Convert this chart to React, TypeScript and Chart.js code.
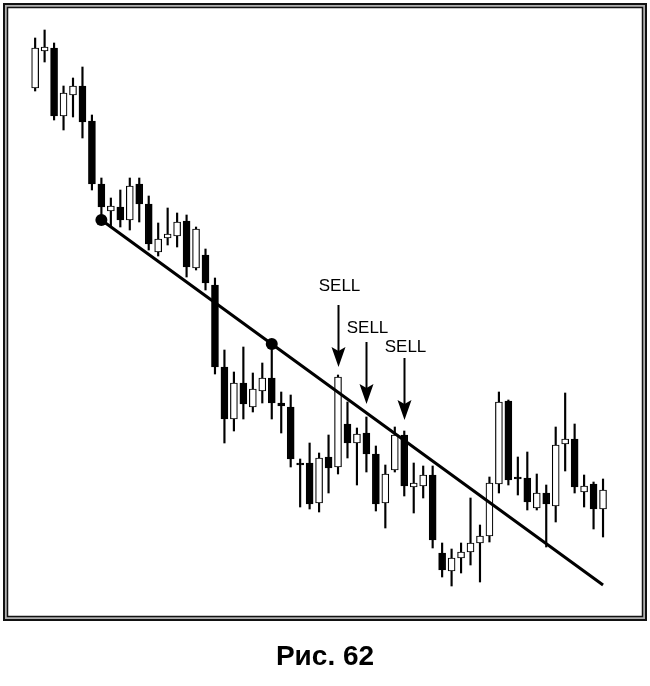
import { useEffect, useRef } from "react";
import { Chart, registerables } from "chart.js";

Chart.register(...registerables);

// Candles (price units), one entry per session
const candleOpen = [
  552, 589, 592, 524, 545, 554, 519, 456, 429, 433,
  420, 456, 436, 388, 402, 404, 419, 372, 385, 355,
  273, 221, 257, 233, 249, 262, 237, 233, 177, 177,
  137, 183, 173, 216, 197, 207, 186, 137, 170, 205,
  153, 154, 165, 87, 69, 82, 88, 97, 104, 156,
  239, 163, 162, 132, 147, 134, 196, 201, 148, 156,
  131,
];
const candleHigh = [
  602, 610, 597, 554, 562, 573, 525, 462, 442, 450,
  462, 462, 444, 417, 432, 427, 425, 413, 391, 362,
  290, 268, 293, 267, 277, 300, 248, 245, 181, 197,
  187, 205, 265, 238, 212, 223, 194, 175, 213, 209,
  177, 174, 174, 97, 91, 97, 142, 115, 163, 248,
  240, 183, 188, 166, 155, 213, 247, 216, 165, 158,
  161,
];
const candleLow = [
  549, 578, 520, 510, 523, 502, 450, 424, 413, 413,
  410, 418, 390, 384, 395, 393, 363, 370, 350, 266,
  197, 209, 221, 228, 237, 221, 207, 173, 133, 131,
  128, 147, 166, 182, 155, 168, 129, 112, 168, 144,
  127, 142, 92, 63, 54, 67, 75, 58, 98, 147,
  155, 145, 130, 130, 93, 118, 169, 147, 133, 111,
  103,
];
const candleClose = [
  592, 593, 524, 547, 554, 518, 456, 433, 434, 420,
  454, 436, 396, 401, 406, 418, 373, 411, 357, 273,
  221, 257, 236, 251, 262, 237, 234, 181, 175, 136,
  182, 172, 263, 197, 206, 186, 136, 166, 205, 154,
  157, 165, 100, 70, 82, 88, 97, 104, 157, 238,
  160, 161, 138, 147, 136, 195, 201, 153, 154, 131,
  150,
];

// Trend line through two touch points
const trendIndex = [7, 25, 60];
const trendPrice = [420, 296, 55];
const trendDot = [true, true, false];

// SELL signals
const sellIndex = [32, 35, 39];
const sellLabel = ["SELL", "SELL", "SELL"];
const sellLabelPrice = [354, 312, 293];
const sellArrowTop = [335, 298, 282];
const sellArrowTip = [273, 236, 220];

const caption = "Рис. 62";

const framePlugin = {
  id: "frame",
  beforeDraw(chart: any) {
    const { ctx } = chart;
    ctx.save();
    ctx.fillStyle = "#ffffff";
    ctx.fillRect(0, 0, chart.width, chart.height);
    ctx.fillStyle = "#b0b0b0";
    ctx.fillRect(4, 4, 642, 616);
    ctx.fillStyle = "#ffffff";
    ctx.fillRect(7.5, 7.5, 635, 609);
    ctx.strokeStyle = "#111";
    ctx.lineWidth = 2;
    ctx.strokeRect(4, 4, 642, 616);
    ctx.lineWidth = 1.5;
    ctx.strokeRect(7.5, 7.5, 635, 609);
    ctx.restore();
  },
};

const sellPlugin = {
  id: "sell",
  afterDatasetsDraw(chart: any) {
    const { ctx } = chart;
    const xs = chart.scales.x;
    const ys = chart.scales.y;
    ctx.save();
    ctx.fillStyle = "#000";
    ctx.strokeStyle = "#000";
    sellIndex.forEach((idx, k) => {
      const px = Math.round(xs.getPixelForValue(idx)) + 0.5;
      const top = ys.getPixelForValue(sellArrowTop[k]);
      const tip = ys.getPixelForValue(sellArrowTip[k]);
      const headLen = 20;
      const half = 7;
      ctx.lineWidth = 2;
      ctx.beginPath();
      ctx.moveTo(px, top);
      ctx.lineTo(px, tip - headLen + 4);
      ctx.stroke();
      ctx.beginPath();
      ctx.moveTo(px - half, tip - headLen);
      ctx.lineTo(px, tip - headLen + 4);
      ctx.lineTo(px + half, tip - headLen);
      ctx.lineTo(px, tip);
      ctx.closePath();
      ctx.fill();
      ctx.font = '17px "Liberation Sans", Arial, sans-serif';
      ctx.textAlign = "center";
      ctx.textBaseline = "middle";
      ctx.fillText(sellLabel[k], px + 1, ys.getPixelForValue(sellLabelPrice[k]));
    });
    ctx.restore();
  },
};

export default function App() {
  const ref = useRef<HTMLCanvasElement | null>(null);

  useEffect(() => {
    if (!ref.current) return;
    const bodies = candleOpen.map((o, i) => ({ x: i, y: [o, candleClose[i]] }));
    const wicks = candleLow.map((l, i) => ({ x: i, y: [l, candleHigh[i]] }));
    const fill = candleOpen.map((o, i) => (candleClose[i] >= o ? "#ffffff" : "#000000"));
    const trend = trendIndex.map((x, i) => ({ x, y: trendPrice[i] }));

    const chart = new Chart(ref.current, {
      type: "bar",
      data: {
        datasets: [
          {
            type: "line",
            data: trend,
            borderColor: "#000",
            borderWidth: 3,
            pointRadius: trendDot.map((d) => (d ? 6 : 0)),
            pointBackgroundColor: "#000",
            pointBorderColor: "#000",
            pointBorderWidth: 0,
            fill: false,
            tension: 0,
          } as any,
          {
            data: bodies,
            backgroundColor: fill,
            borderColor: "#000",
            borderWidth: 1.2,
            borderSkipped: false,
            barThickness: 7,
            grouped: false,
          } as any,
          {
            data: wicks,
            backgroundColor: "#000",
            borderWidth: 0,
            barThickness: 1.5,
            grouped: false,
          } as any,
        ],
      },
      options: {
        responsive: false,
        animation: false,
        devicePixelRatio: 1,
        layout: { padding: { left: 20, right: 20, top: 20, bottom: 0 } },
        plugins: {
          legend: { display: false },
          tooltip: { enabled: false },
          title: {
            display: true,
            position: "bottom",
            text: caption,
            color: "#000",
            font: { family: '"Liberation Sans", Arial, sans-serif', size: 28, weight: "bold", lineHeight: 1.2 },
            padding: { top: 40.2, bottom: 12.2 },
          },
        },
        scales: {
          x: { type: "linear", min: -1.6, max: 62.85, display: false, offset: false },
          y: { type: "linear", min: 40, max: 620, display: false },
        },
      } as any,
      plugins: [framePlugin, sellPlugin],
    });
    return () => chart.destroy();
  }, []);

  return (
    <div style={{ position: "absolute", left: 0, top: 0, width: 650, height: 686 }}>
      <canvas ref={ref} width={650} height={686} />
    </div>
  );
}
